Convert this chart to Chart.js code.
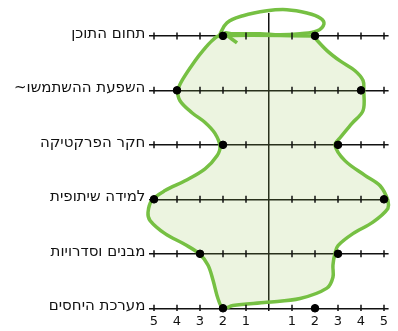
<!DOCTYPE html>
<html><head><meta charset="utf-8">
<script src="https://cdn.jsdelivr.net/npm/chart.js@4"></script>
<style>html,body{margin:0;padding:0;background:#fff}</style>
</head><body>
<canvas id="c" width="398" height="331"></canvas>
<script>
// Categories (top to bottom)
const categories = ["תחום התוכן", "השפעת ההשתמשו~\u200F", "חקר הפרקטיקה", "למידה שיתופית", "מבנים וסדרויות", "מערכת היחסים"];
// Values
const leftValues  = [2, 4, 2, 5, 3, 2];
const rightValues = [2, 4, 3, 5, 3, 2];
const tickLabels  = [-5, -4, -3, -2, -1, 0, 1, 2, 3, 4, 5];
// Hand-drawn outline (x in scale units, y in row units), clockwise from top-right
const outlineX = [1.91, 2.52, 3.09, 3.74, 4.09, 4.12, 4.09, 3.6, 3.09, 2.87, 3.3, 4.17, 4.83, 5.17, 5.17, 4.52, 3.65, 3.0, 2.87, 2.78, 2.78, 2.52, 1.35, -0.09, -1.57, -2.0,
                  -2.22, -2.43, -2.65, -3.0, -3.65, -4.52, -5.17, -5.26, -5.09, -4.52, -3.65, -2.78, -2.26, -2.13, -2.35, -2.78, -3.35, -3.87, -3.96, -3.74, -3.22, -2.87, -2.48, -2.17, 1.91];
const outlineY = [0, 0.27, 0.46, 0.64, 0.82, 1.0, 1.37, 1.61, 1.87, 2.01, 2.29, 2.56, 2.75, 3.02, 3.17, 3.42, 3.63, 3.85, 3.99, 4.21, 4.43, 4.63, 4.82, 4.89, 4.95, 5.0,
                  4.82, 4.49, 4.21, 4.01, 3.83, 3.63, 3.39, 3.24, 3.02, 2.84, 2.66, 2.44, 2.2, 2.03, 1.79, 1.59, 1.41, 1.19, 1.0, 0.79, 0.46, 0.27, 0.09, 0, 0];
// Loop drawn over the top row
const loopX = [-2.17, -1.83, -1.13, -0.09, 0.78, 1.65, 2.22, 2.39, 2.09, 1.35, 0.48, -0.39, -1.57, -1.91, -1.39];
const loopY = [0, -0.24, -0.37, -0.46, -0.48, -0.42, -0.33, -0.22, -0.09, -0.04, -0.02, -0.04, -0.04, -0.05, 0.13];

const GREEN = '#76c043';
const FONT = "'DejaVu Sans', sans-serif";

const pointData = leftValues.map((v, i) => ({x: -v, y: i})).concat(rightValues.map((v, i) => ({x: v, y: i})));
const tickMarks = [];
categories.forEach((c, i) => tickLabels.forEach(t => { if (t !== 0) tickMarks.push({x: t, y: i}); }));
const outline = outlineX.map((x, i) => ({x, y: outlineY[i]}));
const loop = loopX.map((x, i) => ({x, y: loopY[i]}));

new Chart(document.getElementById('c'), {
  type: 'scatter',
  data: {
    datasets: [
      {data: pointData, pointStyle: 'circle', pointRadius: 3.8, backgroundColor: '#000', borderColor: '#000', showLine: false, order: 0, clip: false},
      {data: tickMarks, pointStyle: 'line', rotation: 90, pointRadius: 3.5, borderWidth: 1.5, borderColor: '#111', showLine: false, order: 1},
      {data: loop, showLine: true, borderColor: GREEN, borderWidth: 3.5, tension: 0.4, pointRadius: 0, fill: false, order: 2, clip: false},
      {data: outline, showLine: true, borderColor: GREEN, borderWidth: 3.5, tension: 0.35, pointRadius: 0, fill: 'shape', backgroundColor: 'rgba(150,190,80,0.175)', order: 3, clip: false}
    ]
  },
  options: {
    responsive: false,
    animation: false,
    devicePixelRatio: 1,
    layout: {padding: {top: 12, right: 9.4, bottom: 0, left: 0}},
    plugins: {legend: {display: false}, tooltip: {enabled: false}},
    scales: {
      x: {
        type: 'linear', min: -5.2, max: 5.2,
        afterBuildTicks: s => { s.ticks = tickLabels.map(v => ({value: v})); },
        afterFit: s => { s.height = 20; },
        ticks: {callback: v => v === 0 ? '' : String(Math.abs(v)), font: {family: FONT, size: 13}, color: '#111', padding: 3, autoSkip: false, maxRotation: 0},
        grid: {color: ctx => (ctx.tick && ctx.tick.value === 0) ? '#111' : 'rgba(0,0,0,0)', lineWidth: 1.5, drawTicks: false},
        border: {display: false}
      },
      y: {
        type: 'linear', reverse: true, min: -0.42, max: 5.05,
        afterBuildTicks: s => { s.ticks = categories.map((c, i) => ({value: i})); },
        afterFit: s => { s.width = 149.4; },
        ticks: {callback: v => categories[v], font: {family: FONT, size: 15}, color: '#111', padding: 4, labelOffset: -2, autoSkip: false},
        grid: {color: '#111', lineWidth: 1.5, drawTicks: false},
        border: {display: false}
      }
    }
  }
});
</script>
</body></html>
